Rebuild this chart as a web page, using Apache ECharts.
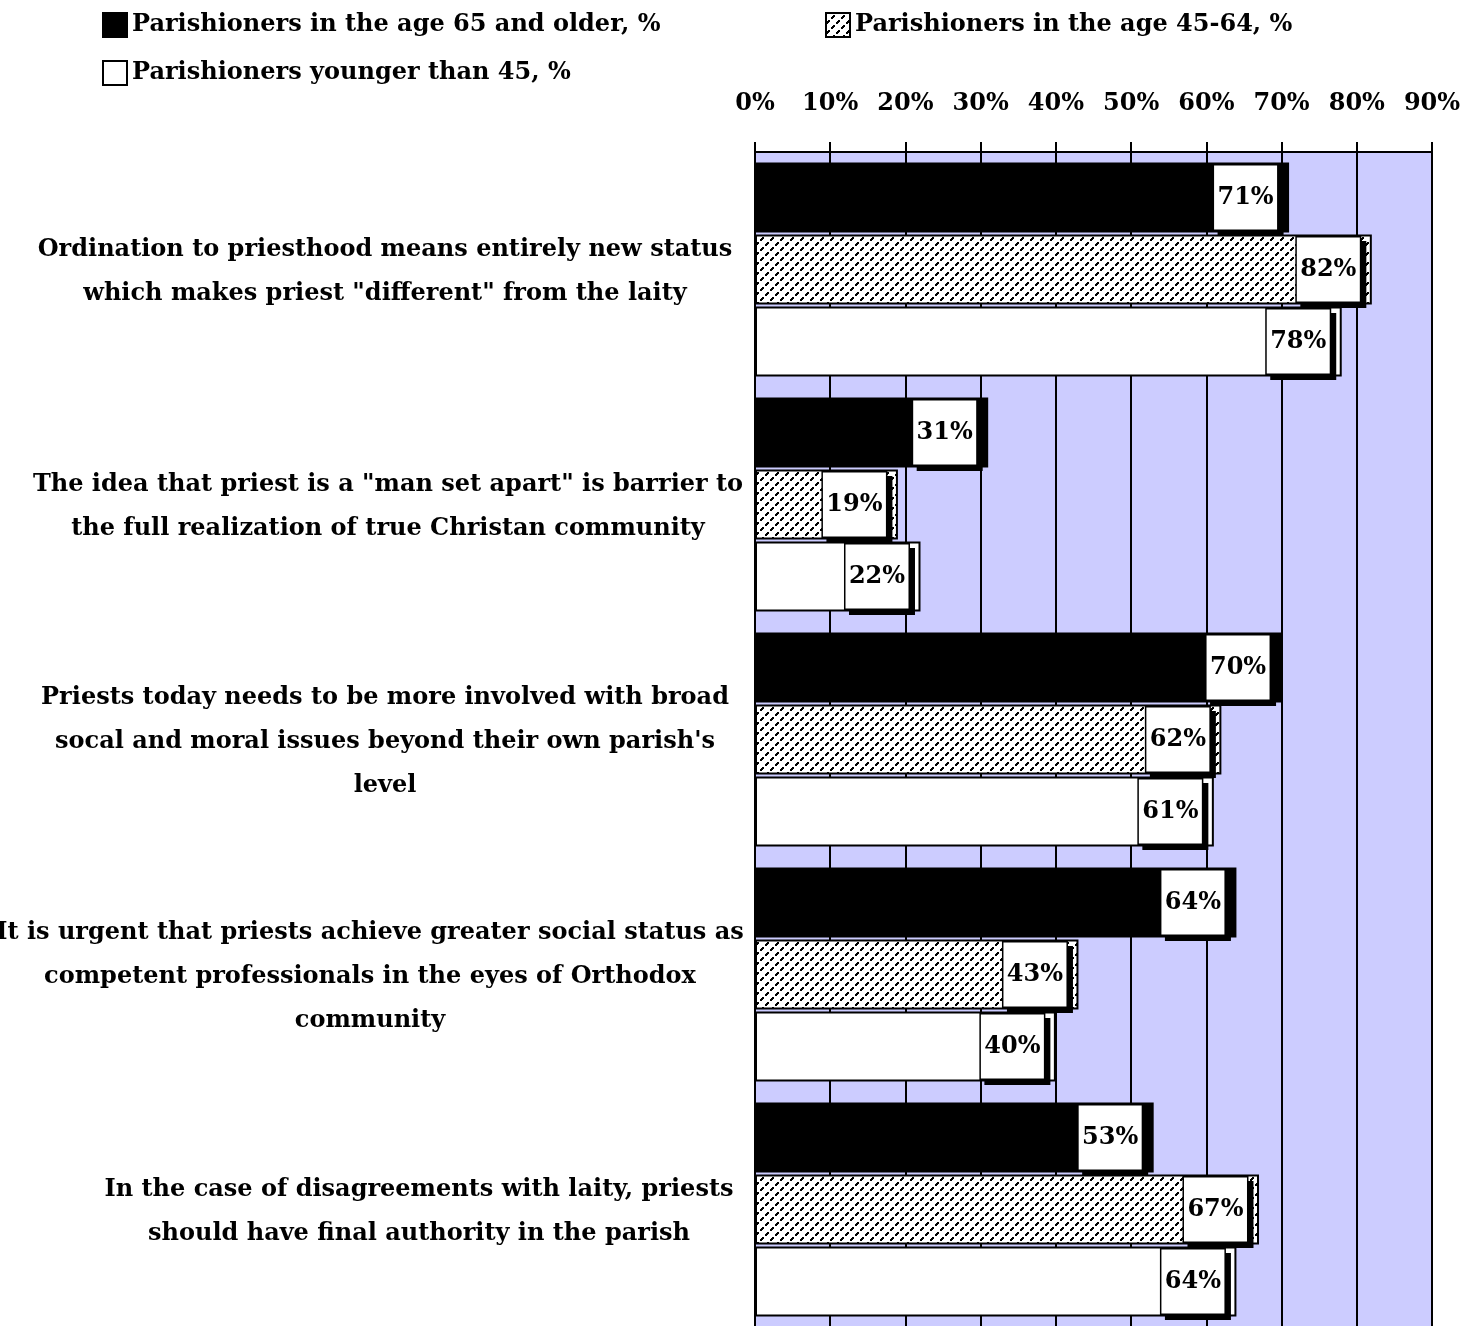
<!DOCTYPE html>
<html>
<head>
<meta charset="utf-8">
<title>Parishioners' views on priesthood by age group</title>
<script src="https://cdn.jsdelivr.net/npm/echarts@6/dist/echarts.min.js"></script>
<style>
  html, body { margin: 0; padding: 0; background: #ffffff; }
  #chart { width: 1479px; height: 1326px; }
</style>
</head>
<body>
<div id="chart"></div>
<script>
// Statements shown on the category axis (pre-wrapped lines)
const categories = [
  'Ordination to priesthood means entirely new status\nwhich makes priest "different" from the laity',
  'The idea that priest is a "man set apart" is barrier to\nthe full realization of true Christan community',
  'Priests today needs to be more involved with broad\nsocal and moral issues beyond their own parish\'s\nlevel',
  'It is urgent that priests achieve greater social status as\ncompetent professionals in the eyes of Orthodox\ncommunity',
  'In the case of disagreements with laity, priests\nshould have final authority in the parish'
];

// Series names
const seriesNames = [
  'Parishioners in the age 65 and older, %',
  'Parishioners in the age 45-64, %',
  'Parishioners younger than 45, %'
];

// Share of respondents agreeing, %
const olderValues   = [71, 31, 70, 64, 53];
const middleValues  = [82, 19, 62, 43, 67];
const youngerValues = [78, 22, 61, 40, 64];

// Value axis ticks
const axisMin = 0;
const axisMax = 90;
const axisStep = 10;

const FONT = '"DejaVu Serif", "Liberation Serif", serif';
const FONT_SIZE = 24;

// Diagonal dashed hatch ("/" lines) used for the middle age group
function makeHatch() {
  const n = 10;
  const c = document.createElement('canvas');
  c.width = n; c.height = n;
  const g = c.getContext('2d');
  g.fillStyle = '#ffffff';
  g.fillRect(0, 0, n, n);
  g.fillStyle = '#000000';
  for (let i = 0; i < n; i++) {
    if (i % 5 > 2) continue;
    const y = n - 1 - i;
    g.fillRect(i, y, 2, 2);
    if (i === n - 1) g.fillRect(0, y, 1, 2);
    if (y === n - 1) g.fillRect(i, 0, 2, 1);
  }
  return c;
}
const hatch = { image: makeHatch(), repeat: 'repeat' };

// Width of the centred text block for each category label (block is right-aligned to the axis)
const labelBlockWidth = [728, 722, 728, 758, 660];

const labelRich = {};
labelBlockWidth.forEach((w, i) => {
  labelRich['c' + i] = {
    width: w,
    align: 'center',
    lineHeight: 44,
    fontFamily: FONT, fontWeight: 'bold', fontSize: FONT_SIZE, color: '#000000'
  };
});

const valueLabel = {
  show: true,
  position: 'insideRight',
  distance: 12,
  formatter: '{v|{c}%}',
  backgroundColor: '#ffffff',
  borderColor: '#000000',
  borderWidth: 1.5,
  padding: 0,
  shadowColor: '#000000',
  shadowBlur: 0,
  shadowOffsetX: 5,
  shadowOffsetY: 5,
  rich: {
    v: {
      width: 63,
      height: 64,
      lineHeight: 64,
      align: 'center',
      verticalAlign: 'middle',
      fontFamily: FONT,
      fontWeight: 'bold',
      fontSize: FONT_SIZE,
      color: '#000000'
    }
  }
};

function barSeries(name, values, color) {
  return {
    name: name,
    type: 'bar',
    data: values,
    barWidth: 70,
    barGap: '3%',
    itemStyle: { color: color, borderColor: '#000000', borderWidth: 2 },
    label: valueLabel,
    emphasis: { disabled: true }
  };
}

const legendText = { fontFamily: FONT, fontWeight: 'bold', fontSize: FONT_SIZE, color: '#000000' };

const chart = echarts.init(document.getElementById('chart'), null, { renderer: 'canvas' });
chart.setOption({
  animation: false,
  backgroundColor: '#ffffff',
  legend: [
    {
      data: [seriesNames[0], seriesNames[2]],
      orient: 'vertical',
      left: 102, top: 12,
      padding: 0,
      icon: 'rect',
      itemWidth: 24, itemHeight: 24,
      itemGap: 22,
      itemStyle: { borderWidth: 2 },
      textStyle: legendText,
      selectedMode: false
    },
    {
      data: [seriesNames[1]],
      left: 825, top: 12,
      padding: 0,
      icon: 'rect',
      itemWidth: 24, itemHeight: 24,
      itemStyle: { borderWidth: 2 },
      textStyle: legendText,
      selectedMode: false
    }
  ],
  grid: {
    left: 755, top: 152, width: 677, height: 1175,
    show: true, backgroundColor: '#ccccff', borderWidth: 0,
    containLabel: false,
    outerBoundsMode: 'none'
  },
  xAxis: {
    type: 'value',
    position: 'top',
    min: axisMin, max: axisMax, interval: axisStep,
    axisLine: { show: true, lineStyle: { color: '#000000', width: 2 } },
    axisTick: { show: true, length: 10, inside: false, lineStyle: { color: '#000000', width: 2 } },
    splitLine: { show: true, lineStyle: { color: '#000000', width: 2 } },
    axisLabel: {
      formatter: '{value}%',
      margin: 36,
      showMinLabel: true,
      showMaxLabel: true,
      hideOverlap: false,
      fontFamily: FONT, fontWeight: 'bold', fontSize: FONT_SIZE, color: '#000000'
    }
  },
  yAxis: {
    type: 'category',
    inverse: true,
    data: categories,
    axisLine: { show: true, lineStyle: { color: '#000000', width: 2 } },
    axisTick: { show: false },
    splitLine: { show: false },
    axisLabel: {
      margin: 6,
      align: 'right',
      interval: 0,
      padding: [5, 0, 0, 0],
      formatter: function (value, index) {
        return value.split('\n').map(line => '{c' + index + '|' + line + '}').join('\n');
      },
      rich: labelRich,
      lineHeight: 44,
      fontFamily: FONT, fontWeight: 'bold', fontSize: FONT_SIZE, color: '#000000'
    }
  },
  series: [
    barSeries(seriesNames[0], olderValues, '#000000'),
    barSeries(seriesNames[1], middleValues, hatch),
    barSeries(seriesNames[2], youngerValues, '#ffffff')
  ]
});
</script>
</body>
</html>
